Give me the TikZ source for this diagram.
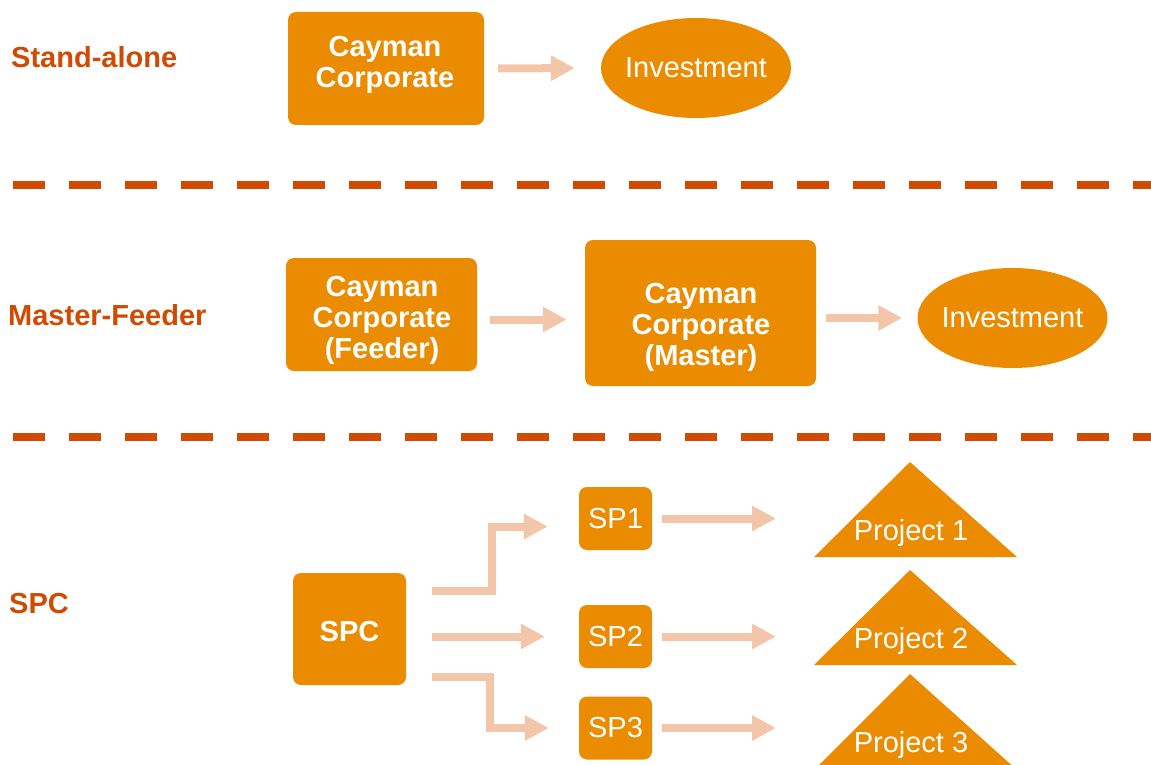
\documentclass[tikz,border=0pt]{standalone}
\usepackage{fontspec}
\setmainfont{Liberation Sans}
\usetikzlibrary{arrows.meta,shapes.geometric}
\definecolor{boxorange}{HTML}{EB8C00}
\definecolor{darkorange}{HTML}{D04A02}
\definecolor{peach}{HTML}{F4C6A9}
\tikzset{
  corpbox/.style={fill=boxorange, rounded corners=8pt, inner sep=0pt},
  boxtxt/.style={text=white, align=center, inner sep=0pt, font=\fontsize{29}{31}\selectfont\bfseries},
  spbox/.style={corpbox, text=white, minimum width=73pt, minimum height=63pt, font=\fontsize{29}{31}\selectfont},
  invest/.style={ellipse, fill=boxorange, inner sep=0pt, minimum width=190pt, minimum height=100pt},
  projtxt/.style={text=white, inner sep=0pt, font=\fontsize{29}{31}\selectfont},
  sect/.style={text=darkorange, anchor=west, inner sep=0pt, font=\fontsize{29}{31}\selectfont\bfseries},
  flow/.style={draw=peach, line width=8pt, -{Triangle[length=24pt,width=24pt]}},
  sepline/.style={draw=darkorange, line width=8pt, dash pattern=on 32pt off 24pt},
}
\begin{document}
\begin{tikzpicture}[x=1pt,y=-1pt]
\useasboundingbox (0,0) rectangle (1151,765);

% Stand-alone
\node[sect] (lsa) at (11,57) {Stand-alone};
\node[corpbox, minimum width=196pt, minimum height=113pt] (sa) at (386,68.5) {};
\node[boxtxt] (satxt) at (385,64.5) {Cayman\\Corporate};
\node[invest, label={[projtxt]center:Investment}] (inv1) at (696,68) {};
\draw[flow, shorten <=14pt, shorten >=26pt] (sa.east) -- (inv1.west);

\draw[sepline] (13,185) -- (1151,185);

% Master-Feeder
\node[sect] (lmf) at (8,315) {Master-Feeder};
\node[corpbox, minimum width=191pt, minimum height=113pt] (fd) at (381.5,314.5) {};
\node[boxtxt] (fdtxt) at (382,320.5) {Cayman\\Corporate\\(Feeder)};
\node[corpbox, minimum width=231pt, minimum height=146pt] (ms) at (700.5,313) {};
\node[boxtxt] (mstxt) at (701,327) {Cayman\\Corporate\\(Master)};
\node[invest, label={[projtxt]center:Investment}] (inv2) at (1012.5,318) {};
\draw[flow, shorten <=13pt, shorten >=18pt] ([yshift=-5pt]fd.east) -- ([yshift=-5pt]fd.east -| ms.west);
\draw[flow, shorten <=10pt, shorten >=15pt] (ms.east |- inv2.west) -- (inv2.west);

\draw[sepline] (13,437) -- (1151,437);

% SPC
\node[sect] (lspc) at (9,604) {SPC};
\node[corpbox, minimum width=113pt, minimum height=112pt, label={[boxtxt,yshift=-3pt]center:SPC}] (spc) at (349.5,629) {};
\node[spbox] (sp1) at (615.5,518.5) {SP1};
\node[spbox] (sp2) at (615.5,636.5) {SP2};
\node[spbox] (sp3) at (615.5,728) {SP3};

\fill[boxorange] (814,557) -- (910,462) -- (1017,557) -- cycle;
\fill[boxorange] (814,665) -- (910,570) -- (1017,665) -- cycle;
\fill[boxorange] (814,770) -- (910,674) -- (1017,770) -- cycle;
\coordinate (tri1) at (814,557);
\coordinate (tri2) at (814,665);
\coordinate (tri3) at (814,770);
\node[projtxt] (pj1) at (911,533) {Project 1};
\node[projtxt] (pj2) at (911,641) {Project 2};
\node[projtxt] (pj3) at (911,745) {Project 3};

\draw[flow] ([xshift=26pt,yshift=38pt]spc.east) -- ++(60,0) |- ([xshift=-31pt,yshift=-8pt]sp1.west);
\draw[flow, shorten <=26pt, shorten >=34pt] (spc.east |- sp2.west) -- (sp2.west);
\draw[flow] ([xshift=26pt,yshift=-48pt]spc.east) -- ++(58,0) |- ([xshift=-30pt]sp3.west);

\draw[flow, shorten <=10pt, shorten >=38pt] (sp1.east) -- (sp1.east -| tri1);
\draw[flow, shorten <=10pt, shorten >=38pt] (sp2.east) -- (sp2.east -| tri2);
\draw[flow, shorten <=10pt, shorten >=38pt] (sp3.east) -- (sp3.east -| tri3);
\end{tikzpicture}
\end{document}
